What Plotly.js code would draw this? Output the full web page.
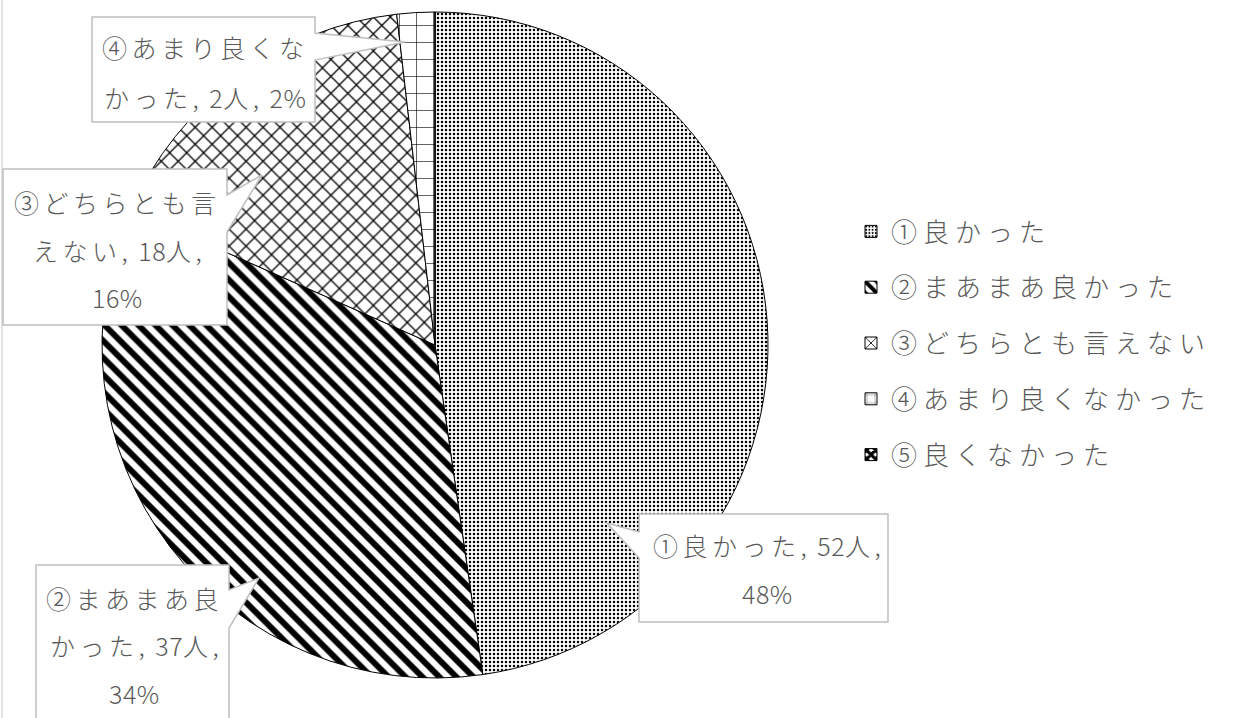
<!DOCTYPE html>
<html>
<head>
<meta charset="utf-8">
<script src="https://cdn.plot.ly/plotly-3.0.1.min.js"></script>
<style>
html,body{margin:0;padding:0;background:#fff;}
#chart{width:1239px;height:718px;}
text.annotation-text{letter-spacing:4.5px;}
text.legendtext{letter-spacing:6px;}
</style>
</head>
<body>
<div id="chart"></div>
<script>
// ---- data ----
const categories = ['①良かった', '②まあまあ良かった', '③どちらとも言えない', '④あまり良くなかった', '⑤良くなかった'];
const counts = [52, 37, 18, 2, 0];
const percents = [48, 34, 16, 2, 0];
const unit = '人';

// ---- styling ----
const W = 1239, H = 718;
const FONT = '"Noto Sans CJK JP", "Noto Sans", sans-serif';
const TEXT_COLOR = '#595959';
const LABEL_SIZE = 25;
const LEGEND_SIZE = 26;
const patterns = [
  {shape: '.', size: 4, solidity: 0.3},
  {shape: '\\', size: 12, solidity: 0.5},
  {shape: 'x', size: 12, solidity: 0.2},
  {shape: '+', size: 17, solidity: 0.07},
  {shape: 'x', size: 8, solidity: 0.75}
];
const pat = p => Object.assign({fgcolor: '#000', bgcolor: '#fff', fillmode: 'replace'}, p);

const px = x => x / W;
const py = y => 1 - y / H;

// callout layouts (pixel geometry of the label boxes)
const callouts = [
  {slice: 0, lens: [11], cx: 767, ys: [545, 593],
   path: [[639,514],[888,514],[888,622],[639,622],[639,558],[607,523],[639,532]]},
  {slice: 1, lens: [6, 9], cx: 134, ys: [598, 645, 693],
   path: [[36,565],[229,565],[229,590],[259,578],[229,628],[229,740],[36,740]]},
  {slice: 2, lens: [7, 9], cx: 117, ys: [202, 250, 297],
   path: [[3,169],[227,169],[227,195],[262,175],[227,232],[227,325],[3,325]]},
  {slice: 3, lens: [7], cx: 205, ys: [47, 97],
   path: [[92,17],[315,17],[315,33],[405,42],[315,60],[315,122],[92,122]]}
];

function wrap(str, lens) {
  const lines = [];
  let pos = 0;
  for (const len of lens) {
    lines.push(str.slice(pos, pos + len));
    pos += len;
    while (str[pos] === ' ') pos++;
  }
  lines.push(str.slice(pos));
  return lines;
}
// keep digits / punctuation tight, like the original
const tighten = t => t.replace(/[0-9%,]+/g, m => `<span style="letter-spacing:0.5px">${m}</span>`);

const shapes = [
  {type: 'line', xref: 'paper', yref: 'paper', x0: px(2), x1: px(2), y0: 0, y1: 1,
   line: {color: '#d9d9d9', width: 1.5}}
];
const annotations = [];
callouts.forEach(c => {
  const d = 'M' + c.path.map(p => px(p[0]) + ',' + py(p[1])).join(' L') + ' Z';
  shapes.push({type: 'path', xref: 'paper', yref: 'paper', path: d,
    fillcolor: '#fff', line: {color: '#bfbfbf', width: 1.5}, layer: 'above'});
  const label = `${categories[c.slice]}, ${counts[c.slice]}${unit}, ${percents[c.slice]}%`;
  wrap(label, c.lens).forEach((t, i) => {
    annotations.push({text: tighten(t), xref: 'paper', yref: 'paper', x: px(c.cx), y: py(c.ys[i]),
      xanchor: 'center', yanchor: 'middle', showarrow: false,
      font: {family: FONT, size: LABEL_SIZE, color: TEXT_COLOR, weight: 300}});
  });
});

const pieTrace = {
  type: 'pie',
  labels: categories,
  values: counts,
  sort: false,
  direction: 'clockwise',
  rotation: 0,
  textinfo: 'none',
  hoverinfo: 'none',
  showlegend: false,
  domain: {x: [px(102), px(768)], y: [py(678), py(12)]},
  marker: {
    colors: categories.map(() => '#fff'),
    line: {color: '#000', width: 1},
    pattern: {
      shape: patterns.map(p => p.shape),
      size: patterns.map(p => p.size),
      solidity: patterns.map(p => p.solidity),
      fgcolor: '#000',
      bgcolor: '#fff',
      fillmode: 'replace'
    }
  }
};

// legend entries (one per category, same patterns)
const legendTraces = categories.map((c, i) => ({
  type: 'bar', x: [null], y: [null], name: c, legendgroup: 'g' + i,
  hoverinfo: 'none',
  marker: {color: '#fff', line: {color: '#000', width: 1}, pattern: pat(patterns[i])}
}));

const layout = {
  width: W, height: H,
  margin: {l: 0, r: 0, t: 0, b: 0},
  paper_bgcolor: '#fff', plot_bgcolor: '#fff',
  xaxis: {visible: false, domain: [0.99, 1]},
  yaxis: {visible: false, domain: [0.99, 1]},
  showlegend: true,
  legend: {
    x: px(851), y: py(208), xanchor: 'left', yanchor: 'top',
    font: {family: FONT, size: LEGEND_SIZE, color: TEXT_COLOR, weight: 300},
    tracegroupgap: 19, bgcolor: 'rgba(0,0,0,0)', itemclick: false
  },
  shapes: shapes,
  annotations: annotations
};

Plotly.newPlot('chart', [pieTrace].concat(legendTraces), layout, {staticPlot: true, displayModeBar: false});
</script>
</body>
</html>
